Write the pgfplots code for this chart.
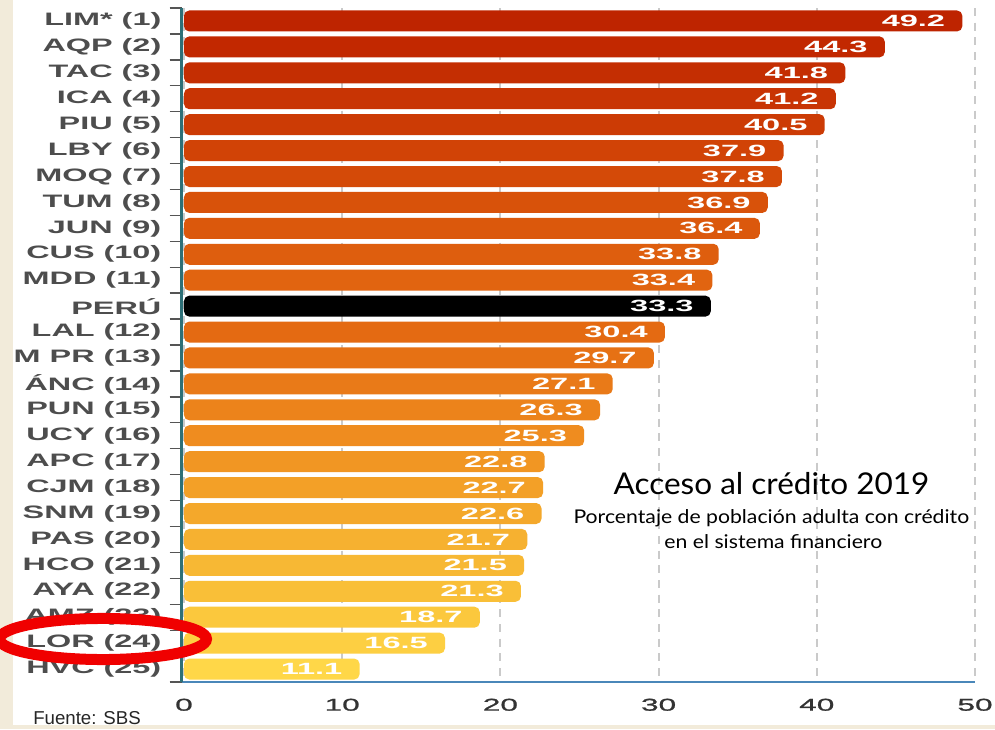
\documentclass[border=0pt]{standalone}
\usepackage{pgfplots}
\pgfplotsset{compat=1.18}
\usepackage{fontspec}
\setmainfont{Liberation Sans}
\newfontfamily\lblfont[FakeStretch=1.8]{Liberation Sans}
\newfontfamily\valfont[FakeStretch=2.0]{Liberation Sans}
\newfontfamily\tickfont[FakeStretch=1.85,FakeBold=1.2]{Liberation Sans}
\newfontfamily\titlefont[FakeStretch=1.05]{Lato}
\newfontfamily\subfont[FakeStretch=1.12]{Lato}
\definecolor{bgbeige}{HTML}{F2EBDA}
\definecolor{axteal}{HTML}{2E7077}
\definecolor{axblue}{HTML}{4A87B9}
\definecolor{gridgray}{HTML}{CACACA}
\definecolor{tickgray}{HTML}{555555}
\definecolor{ticklbl}{HTML}{333333}
\definecolor{lblgray}{HTML}{4D4D4D}
\definecolor{c0}{HTML}{BE2400}
\definecolor{c1}{HTML}{C22800}
\definecolor{c2}{HTML}{C42E02}
\definecolor{c3}{HTML}{C83404}
\definecolor{c4}{HTML}{CC3B05}
\definecolor{c5}{HTML}{D14306}
\definecolor{c6}{HTML}{D44A08}
\definecolor{c7}{HTML}{D8520A}
\definecolor{c8}{HTML}{DB580C}
\definecolor{c9}{HTML}{DE5E0E}
\definecolor{c10}{HTML}{E16410}
\definecolor{c11}{HTML}{000000}
\definecolor{c12}{HTML}{E46A12}
\definecolor{c13}{HTML}{E67114}
\definecolor{c14}{HTML}{E97A18}
\definecolor{c15}{HTML}{EC831B}
\definecolor{c16}{HTML}{EF8C1F}
\definecolor{c17}{HTML}{F19623}
\definecolor{c18}{HTML}{F3A027}
\definecolor{c19}{HTML}{F4A82B}
\definecolor{c20}{HTML}{F6B130}
\definecolor{c21}{HTML}{F7B834}
\definecolor{c22}{HTML}{F9BF38}
\definecolor{c23}{HTML}{FBC83D}
\definecolor{c24}{HTML}{FDCF42}
\definecolor{c25}{HTML}{FFD748}
\newcommand\hb[3]{\addplot[fill=#3, draw=none] coordinates {(#2,#1)};}
\begin{document}
\begin{tikzpicture}
\fill[bgbeige] (0pt,0pt) rectangle (746.25pt,546.75pt);
\fill[white] (9.75pt,3pt) rectangle (746.25pt,546.75pt);
\begin{axis}[
  scale only axis, width=595.05pt, height=505.5pt,
  at={(136.2pt,35.25pt)}, anchor=south west,
  xmin=-0.15, xmax=50, ymin=-0.5, ymax=25.5, y dir=reverse,
  axis x line*=bottom, axis y line*=left,
  x axis line style={color=axblue, line width=2pt},
  y axis line style={color=axteal, line width=2.25pt},
  xtick={0,10,20,30,40,50}, xticklabels={0,10,20,30,40,50},
  xtick style={draw=none},
  xmajorgrids, major grid style={color=gridgray, line width=1.5pt, dash pattern=on 6pt off 5pt},
  ytick={-0.5,0.5,...,25.5}, yticklabels={},
  ytick style={color=tickgray, line width=1pt},
  tick align=outside, major tick length=9pt,
  extra y ticks={0,1,...,25},
  extra y tick labels={LIM* (1),AQP (2),TAC (3),ICA (4),PIU (5),LBY (6),MOQ (7),TUM (8),JUN (9),CUS (10),MDD (11),PERÚ,LAL (12),M PR (13),ÁNC (14),PUN (15),UCY (16),APC (17),CJM (18),SNM (19),PAS (20),HCO (21),AYA (22),AMZ (23),LOR (24),HVC (25)},
  extra y tick style={major tick length=0pt, grid=none, ytick style={draw=none}},
  yticklabel style={font=\lblfont\bfseries\fontsize{13.5}{14}\selectfont, text=lblgray, inner sep=0pt, anchor=east, xshift=-15pt},
  xticklabel style={font=\tickfont\fontsize{12.8}{13}\selectfont, text=ticklbl},
  /pgf/number format/assume math mode=true,
  xbar, bar shift=0pt, bar width=0.81,
  every axis plot/.append style={rounded corners=4pt},
  nodes near coords={\pgfmathprintnumber[fixed,fixed zerofill,precision=1,assume math mode=true]{\pgfplotspointmeta}},
  nodes near coords style={anchor=east, xshift=-12.75pt, inner sep=0pt, font=\valfont\bfseries\fontsize{12.2}{12}\selectfont, text=white},
  clip=false,
]
\hb{0}{49.2}{c0}
\hb{1}{44.3}{c1}
\hb{2}{41.8}{c2}
\hb{3}{41.2}{c3}
\hb{4}{40.5}{c4}
\hb{5}{37.9}{c5}
\hb{6}{37.8}{c6}
\hb{7}{36.9}{c7}
\hb{8}{36.4}{c8}
\hb{9}{33.8}{c9}
\hb{10}{33.4}{c10}
\hb{11}{33.3}{c11}
\hb{12}{30.4}{c12}
\hb{13}{29.7}{c13}
\hb{14}{27.1}{c14}
\hb{15}{26.3}{c15}
\hb{16}{25.3}{c16}
\hb{17}{22.8}{c17}
\hb{18}{22.7}{c18}
\hb{19}{22.6}{c19}
\hb{20}{21.7}{c20}
\hb{21}{21.5}{c21}
\hb{22}{21.3}{c22}
\hb{23}{18.7}{c23}
\hb{24}{16.5}{c24}
\hb{25}{11.1}{c25}
\end{axis}
\fill[bgbeige] (0pt,0pt) rectangle (9.75pt,546.75pt);
\fill[bgbeige] (0pt,0pt) rectangle (746.25pt,3pt);
\node[anchor=base, inner sep=0pt, font=\titlefont\fontsize{22.5}{23}\selectfont] at (578.6pt,176.25pt) {Acceso al crédito 2019};
\node[anchor=base, inner sep=0pt, font=\subfont\fontsize{14.2}{15}\selectfont] at (578.5pt,154.5pt) {Porcentaje de población adulta con crédito};
\node[anchor=base, inner sep=0pt, font=\subfont\fontsize{14.2}{15}\selectfont] at (580pt,135.75pt) {en el sistema financiero};
\node[anchor=base west, inner sep=0pt, font=\fontsize{14}{15}\selectfont, text=black!85] at (24.75pt,3.75pt) {Fuente: SBS};
\draw[color={rgb,255:red,240;green,0;blue,0}, line width=8.25pt] (77.25pt,67.5pt) ellipse [x radius=77.6pt, y radius=15.4pt];
\pgfresetboundingbox
\path[use as bounding box] (0pt,0pt) rectangle (746.25pt,546.75pt);
\end{tikzpicture}
\end{document}
